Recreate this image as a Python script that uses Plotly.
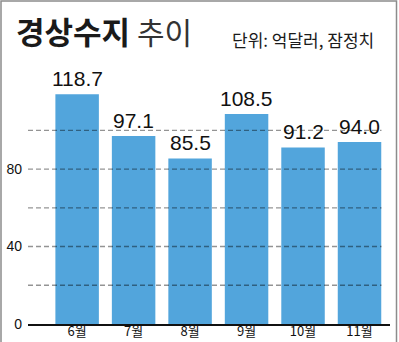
import plotly.graph_objects as go

months = ["6월", "7월", "8월", "9월", "10월", "11월"]
values = [118.7, 97.1, 85.5, 108.5, 91.2, 94.0]
value_labels = ["118.7", "97.1", "85.5", "108.5", "91.2", "94.0"]
y_tick_vals = [0, 40, 80]
grid_vals = [20, 40, 60, 80, 100]

W, H = 399, 342
ML, MR, MT, MB = 28, 9, 82, 18
PW = W - ML - MR
PH = H - MT - MB


def px(x):
    return (x - ML) / PW


def py(y):
    return (H - MB - y) / PH


KR = "Noto Sans CJK KR"
NUM = "Liberation Sans, Arial, sans-serif"

fig = go.Figure()
fig.add_trace(go.Bar(
    x=list(range(len(months))), y=values,
    marker=dict(color="#52a5dc", line=dict(width=0)),
    width=0.77, hoverinfo="skip",
))

annotations = []
for i, (v, t) in enumerate(zip(values, value_labels)):
    annotations.append(dict(
        x=i, y=v, xref="x", yref="y", text=t, showarrow=False,
        yanchor="bottom", xanchor="center", yshift=2,
        font=dict(family=NUM, size=21, color="#111111"),
    ))

annotations.append(dict(
    x=px(14), y=py(31), xref="paper", yref="paper", text="<b>경상수지</b>",
    showarrow=False, xanchor="left", yanchor="middle",
    font=dict(family=KR, size=31, color="#1a1a1a"),
))
annotations.append(dict(
    x=px(135), y=py(31), xref="paper", yref="paper", text="추이",
    showarrow=False, xanchor="left", yanchor="middle",
    font=dict(family=KR, size=30, color="#333333"),
))
annotations.append(dict(
    x=px(230), y=py(39), xref="paper", yref="paper", text="단위: 억달러, 잠정치",
    showarrow=False, xanchor="left", yanchor="middle",
    font=dict(family=KR, size=17, color="#1a1a1a"),
))

shapes = []
for g in grid_vals:
    shapes.append(dict(
        type="line", xref="paper", yref="y", x0=0, x1=px(381.5), y0=g, y1=g,
        line=dict(color="rgba(0,0,0,0.42)", width=1.4, dash="5px,3px"),
        layer="above",
    ))
# outer frame
shapes.append(dict(
    type="rect", xref="paper", yref="paper",
    x0=px(1), x1=px(396.5), y0=py(346), y1=py(1),
    line=dict(color="#8c8c8c", width=1.5), fillcolor="rgba(0,0,0,0)",
    layer="above",
))

fig.update_layout(
    width=W, height=H,
    margin=dict(l=ML, r=MR, t=MT, b=MB, pad=0, autoexpand=False),
    paper_bgcolor="white", plot_bgcolor="white",
    showlegend=False,
    bargap=0.23,
    annotations=annotations,
    shapes=shapes,
    xaxis=dict(
        range=[-0.87, 5.54], tickmode="array",
        tickvals=list(range(len(months))), ticktext=months,
        showline=True, linecolor="#111111", linewidth=1.5,
        showgrid=False, zeroline=False, ticks="",
        ticklabelstandoff=-5,
        tickfont=dict(family=KR, size=13, color="#111111"),
        automargin=False, fixedrange=True,
    ),
    yaxis=dict(
        range=[0, 125], tickmode="array", tickvals=y_tick_vals,
        showgrid=False, zeroline=False, showline=False, ticks="",
        ticklabelstandoff=5,
        tickfont=dict(family=NUM, size=14, color="#111111"),
        automargin=False, fixedrange=True,
    ),
)

fig.write_html("out.html", config={"displayModeBar": False})
